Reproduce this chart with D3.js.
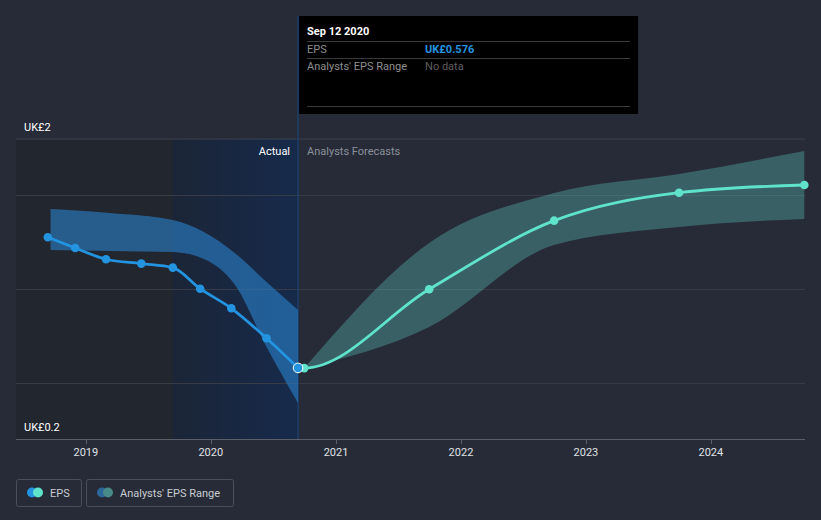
<!DOCTYPE html>
<html><head><meta charset="utf-8">
<script src="https://cdn.jsdelivr.net/npm/d3@7"></script>
<style>html,body{margin:0;padding:0;background:#262b37;}svg{display:block;font-family:Roboto,"Noto Sans",sans-serif;}</style>
</head><body>
<svg id="c" width="821" height="520"></svg>
<script>
// ---- data ----
const epsDates = ["2018-09-12","2018-12-01","2019-03-01","2019-06-12","2019-09-12","2019-12-01","2020-03-01","2020-06-12","2020-09-12"];
const epsValues = [1.389,1.322,1.252,1.225,1.200,1.069,0.947,0.761,0.576];

const pastRangeDates = ["2018-09-20","2019-03-12","2019-09-12","2019-12-12","2020-03-12","2020-06-12","2020-09-12"];
const pastRangeLow  = [1.310,1.304,1.297,1.254,1.092,0.707,0.358];
const pastRangeHigh = [1.565,1.540,1.496,1.422,1.290,1.111,0.937];

const fcDates  = ["2020-09-12","2020-09-30","2021-09-30","2022-09-30","2023-09-30","2024-09-30"];
const fcValues = [0.576,0.575,1.065,1.492,1.666,1.714];
const fcMarked = [false,true,true,true,true,true];

const fcRangeDates = ["2020-09-30","2021-09-30","2022-09-30","2023-09-30","2024-09-30"];
const fcRangeLow   = [0.575,0.831,1.341,1.453,1.503];
const fcRangeHigh  = [0.575,1.353,1.664,1.782,1.925];

const gridValues = [1.652,1.067,0.482];
const yTickLabels = ["UK£2","UK£0.2"];
const xTickYears = [2019,2020,2021,2022,2023,2024];
const highlightStart = "2019-09-12";
const hoverDate = "2020-09-12";
const tooltipTitle = "Sep 12 2020";
const tooltipRows = [["EPS","UK£0.576"],["Analysts' EPS Range","No data"]];
const legendItems = ["EPS","Analysts' EPS Range"];

// ---- setup ----
const P = d3.timeParse("%Y-%m-%d");
const svg = d3.select("#c");
const L = 16, R = 805, T = 139, B = 439;
const x = d3.scaleTime().domain([P("2018-06-11"), P("2024-10-02")]).range([L, R]);
const y = d3.scaleLinear().domain([0.134, 2]).range([B, T]);
const yLab = d3.scalePoint().domain(yTickLabels).range([T, B]);

const defs = svg.append("defs");
const g1 = defs.append("linearGradient").attr("id","hl").attr("x1","0").attr("x2","1").attr("y1","0").attr("y2","0");
g1.append("stop").attr("offset","0").attr("stop-color","#1b2537");
g1.append("stop").attr("offset","1").attr("stop-color","#162a4b");

const hx0 = x(P(highlightStart)), hx1 = x(P(hoverDate));
svg.append("rect").attr("x", L).attr("y", T).attr("width", hx0 - L).attr("height", B - T).attr("fill", "#22262f");
svg.append("rect").attr("x", hx0).attr("y", T).attr("width", hx1 - hx0).attr("height", B - T).attr("fill", "url(#hl)");

// gridlines
svg.append("line").attr("x1", L).attr("x2", R).attr("y1", y(2)).attr("y2", y(2)).attr("stroke", "#3e434e").attr("stroke-width", 1);
svg.selectAll(".grid").data(gridValues).join("line")
  .attr("x1", L).attr("x2", R).attr("y1", d => Math.round(y(d)) + 0.5).attr("y2", d => Math.round(y(d)) + 0.5)
  .attr("stroke", "#363b46").attr("stroke-width", 1);

// hover vertical line
svg.append("line").attr("x1", hx1).attr("x2", hx1).attr("y1", 16).attr("y2", B)
  .attr("stroke", "#1d3e6b").attr("stroke-width", 1.5);

// past range band
const pr = pastRangeDates.map((d, i) => ({ d: P(d), lo: pastRangeLow[i], hi: pastRangeHigh[i] }));
svg.append("path").datum(pr)
  .attr("d", d3.area().curve(d3.curveMonotoneX).x(d => x(d.d)).y0(d => y(d.lo)).y1(d => y(d.hi)))
  .attr("fill", "#2a7fc8").attr("opacity", 0.62);

// forecast range band
const fr = fcRangeDates.map((d, i) => ({ d: P(d), lo: fcRangeLow[i], hi: fcRangeHigh[i] }));
svg.append("path").datum(fr)
  .attr("d", d3.area().curve(d3.curveMonotoneX).x(d => x(d.d)).y0(d => y(d.lo)).y1(d => y(d.hi)))
  .attr("fill", "#66dccf").attr("opacity", 0.3);

// EPS line
const ep = epsDates.map((d, i) => ({ d: P(d), v: epsValues[i] }));
svg.append("path").datum(ep)
  .attr("d", d3.line().curve(d3.curveMonotoneX).x(d => x(d.d)).y(d => y(d.v)))
  .attr("fill", "none").attr("stroke", "#2394e0").attr("stroke-width", 2.8);

// forecast line
const fp = fcDates.map((d, i) => ({ d: P(d), v: fcValues[i], m: fcMarked[i] }));
svg.append("path").datum(fp)
  .attr("d", d3.line().curve(d3.curveMonotoneX).x(d => x(d.d)).y(d => y(d.v)))
  .attr("fill", "none").attr("stroke", "#5fe3cb").attr("stroke-width", 2.8);
svg.selectAll(".fcpt").data(fp.filter(d => d.m)).join("circle")
  .attr("cx", d => x(d.d)).attr("cy", d => y(d.v)).attr("r", 4.3).attr("fill", "#5fe3cb");

svg.selectAll(".eppt").data(ep).join("circle")
  .attr("cx", d => x(d.d)).attr("cy", d => y(d.v))
  .attr("r", (d, i) => i === ep.length - 1 ? 4.8 : 4.3)
  .attr("fill", "#2394e0")
  .attr("stroke", (d, i) => i === ep.length - 1 ? "#ffffff" : "none")
  .attr("stroke-width", 1);

// x axis
const xa = svg.append("g").attr("transform", `translate(0,${B})`);
xa.append("line").attr("x1", L).attr("x2", R).attr("y1", 0.5).attr("y2", 0.5).attr("stroke", "#5a5f6a");
const xt = xTickYears.map(yr => new Date(yr, 0, 1));
xa.selectAll(".tk").data(xt).join("line")
  .attr("x1", d => Math.round(x(d)) + 0.5).attr("x2", d => Math.round(x(d)) + 0.5).attr("y1", 0).attr("y2", 5)
  .attr("stroke", "#5a5f6a");
xa.selectAll(".tl").data(xt).join("text")
  .attr("x", d => x(d)).attr("y", 17).attr("text-anchor", "middle")
  .attr("fill", "#e0e2e6").attr("font-size", 11).text(d => d.getFullYear());

// y labels
svg.selectAll(".yl").data(yTickLabels).join("text")
  .attr("x", 24).attr("y", d => yLab(d) - 8)
  .attr("fill", "#ffffff").attr("font-size", 11).text(d => d);

// period labels
svg.append("text").attr("x", hx1 - 8).attr("y", 155).attr("text-anchor", "end")
  .attr("fill", "#ffffff").attr("font-size", 11).text("Actual");
svg.append("text").attr("x", hx1 + 9).attr("y", 155)
  .attr("fill", "#8b909a").attr("font-size", 11).text("Analysts Forecasts");

// tooltip
const tt = svg.append("g").attr("transform", `translate(${hx1 + 1},16)`);
tt.append("rect").attr("width", 339).attr("height", 98).attr("fill", "#000000");
tt.append("text").attr("x", 8).attr("y", 19).attr("fill", "#ffffff").attr("font-size", 11).attr("font-weight", "bold").text(tooltipTitle);
[25, 42, 90].forEach(yy => tt.append("line").attr("x1", 8).attr("x2", 331).attr("y1", yy + 0.5).attr("y2", yy + 0.5).attr("stroke", "#3a3a3a"));
tooltipRows.forEach((r, i) => {
  tt.append("text").attr("x", 8).attr("y", 37 + i * 17).attr("fill", "#8e8e8e").attr("font-size", 11).text(r[0]);
  tt.append("text").attr("x", 126).attr("y", 37 + i * 17)
    .attr("fill", i === 0 ? "#2394e0" : "#5f5f5f").attr("font-size", 11)
    .attr("font-weight", i === 0 ? "bold" : "normal").text(r[1]);
});

// legend
const lg = svg.append("g");
const boxes = [{ x: 16, w: 65, c1: "#2394e0", c2: "#5fe3cb" }, { x: 86, w: 147, c1: "#2c679a", c2: "#478a87" }];
boxes.forEach((b, i) => {
  lg.append("rect").attr("x", b.x + 0.5).attr("y", 479.5).attr("width", b.w).attr("height", 27).attr("rx", 2)
    .attr("fill", "none").attr("stroke", "#4a4f5a");
  lg.append("circle").attr("cx", b.x + 16).attr("cy", 492.5).attr("r", 5).attr("fill", b.c1);
  lg.append("circle").attr("cx", b.x + 22).attr("cy", 492.5).attr("r", 5).attr("fill", b.c2);
  lg.append("text").attr("x", b.x + 34).attr("y", 497).attr("fill", "#c8cbd1").attr("font-size", 11).text(legendItems[i]);
});
</script>
</body></html>
